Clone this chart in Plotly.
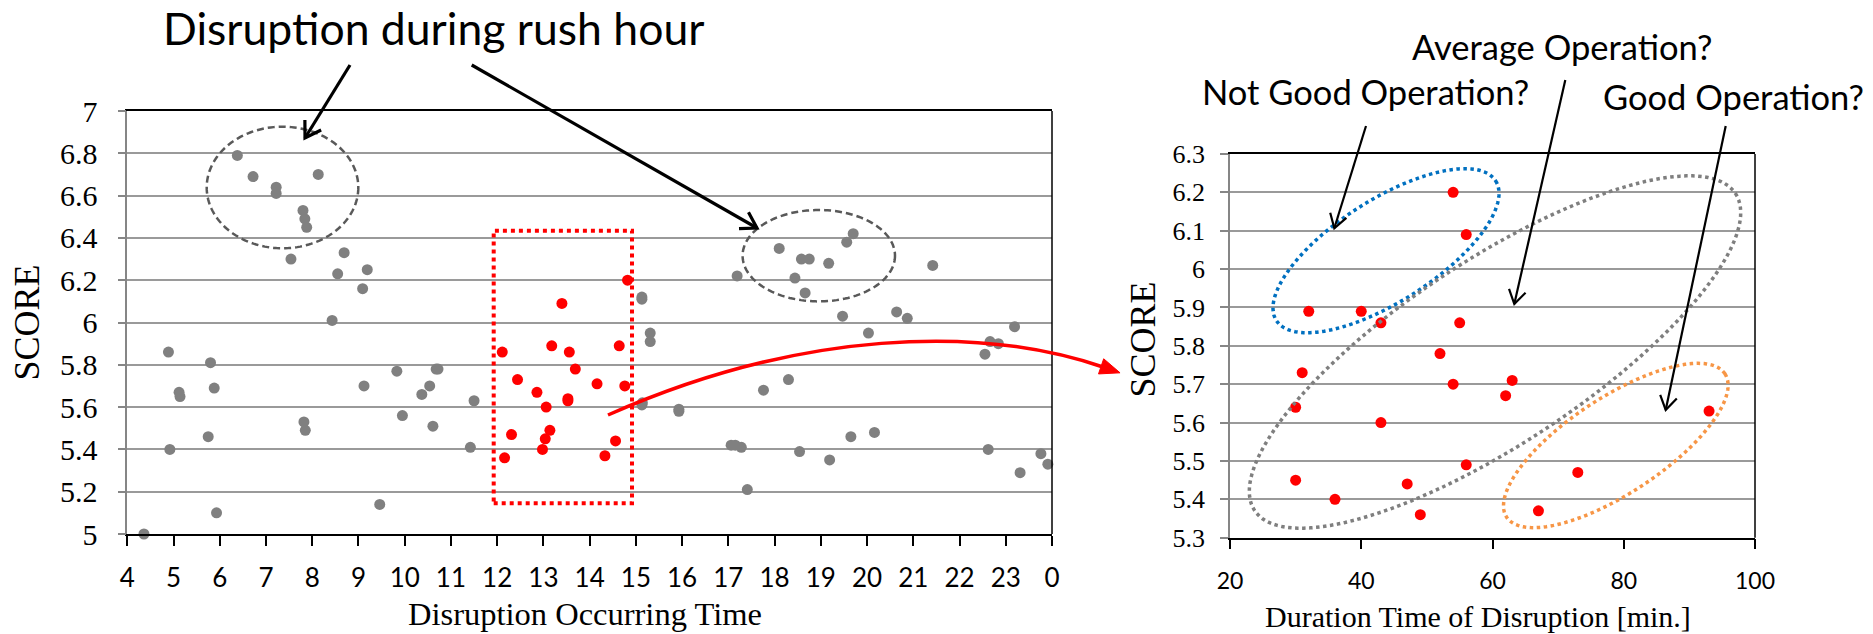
import math
import plotly.graph_objects as go

# ---------------- data ----------------
# Left chart: disruption occurring time (hour of day, 24 = midnight) vs SCORE
gray_time = [6.38, 6.72, 7.22, 7.22, 8.13, 7.80, 7.84, 7.88, 7.54, 8.69, 8.55, 9.19, 9.09, 8.43,
             4.89, 5.80, 5.12, 5.14, 5.88, 4.92, 5.75, 5.93, 4.36, 7.82, 7.85, 9.12, 9.83, 9.95,
             10.37, 10.54, 10.68, 10.72, 10.61, 9.46, 11.50, 11.42,
             15.13, 15.13, 15.31, 15.31, 15.13, 15.14, 15.93, 15.93, 17.19, 17.06, 17.15, 17.28,
             17.41, 17.76, 18.30, 18.10, 18.44, 18.58, 18.75, 18.66, 19.17, 19.56, 19.70, 18.54,
             19.19, 19.47, 19.65, 20.03, 20.16, 20.64, 20.87, 21.42, 22.55, 22.66, 22.84, 22.62,
             23.19, 23.31, 23.76, 23.91]
gray_score = [6.79, 6.69, 6.64, 6.61, 6.70, 6.53, 6.49, 6.45, 6.30, 6.33, 6.23, 6.25, 6.16, 6.01,
              5.86, 5.81, 5.67, 5.65, 5.69, 5.40, 5.46, 5.10, 5.00, 5.53, 5.49, 5.70, 5.77, 5.56,
              5.66, 5.70, 5.78, 5.78, 5.51, 5.14, 5.63, 5.41,
              6.12, 6.11, 5.95, 5.91, 5.61, 5.62, 5.59, 5.58, 6.22, 5.42, 5.42, 5.41,
              5.21, 5.68, 5.73, 6.35, 6.21, 6.30, 6.30, 6.14, 6.28, 6.38, 6.42, 5.39,
              5.35, 6.03, 5.46, 5.95, 5.48, 6.05, 6.02, 6.27, 5.85, 5.91, 5.90, 5.40,
              5.98, 5.29, 5.38, 5.33]
red_time = [12.11, 12.44, 12.16, 12.31, 12.86, 13.06, 13.14, 13.04, 12.98, 13.18, 13.40,
            13.56, 13.69, 13.53, 13.53, 14.16, 14.33, 14.56, 14.64, 14.76, 14.82]
red_score = [5.86, 5.73, 5.36, 5.47, 5.67, 5.60, 5.49, 5.45, 5.40, 5.89, 6.09,
             5.86, 5.78, 5.64, 5.63, 5.71, 5.37, 5.44, 5.89, 5.70, 6.20]
hour_ticks = list(range(4, 25))
hour_labels = [str(h) for h in range(4, 24)] + ["0"]
score_ticks_left = [5.0, 5.2, 5.4, 5.6, 5.8, 6.0, 6.2, 6.4, 6.6, 6.8, 7.0]
score_labels_left = ["5", "5.2", "5.4", "5.6", "5.8", "6", "6.2", "6.4", "6.6", "6.8", "7"]

# Right chart: duration of disruption [min.] vs SCORE
duration_min = [54, 56, 32, 40, 43, 55, 52, 31, 54, 30, 43, 56, 30, 47, 36, 49, 63, 62, 93, 73, 67]
duration_score = [6.20, 6.09, 5.89, 5.89, 5.86, 5.86, 5.78, 5.73, 5.70, 5.64, 5.60, 5.49, 5.45,
                  5.44, 5.40, 5.36, 5.71, 5.67, 5.63, 5.47, 5.37]
dur_ticks = [20, 40, 60, 80, 100]
score_ticks_right = [5.3, 5.4, 5.5, 5.6, 5.7, 5.8, 5.9, 6.0, 6.1, 6.2, 6.3]
score_labels_right = ["5.3", "5.4", "5.5", "5.6", "5.7", "5.8", "5.9", "6", "6.1", "6.2", "6.3"]

# ---------------- layout geometry (page pixels) ----------------
W, H = 1873, 634
L_X0, L_X1, L_Y0, L_Y1 = 127.3, 1052.0, 111.0, 534.0     # left plot box (top, bottom)
R_X0, R_X1, R_Y0, R_Y1 = 1230.0, 1755.0, 154.0, 537.7    # right plot box


def px(x):
    return x / W


def py(y):
    return 1 - y / H


GRAY = "#808080"
RED = "#FF0000"
GRID = "#9A9A9A"
AXG = "#868686"
SERIF = "Liberation Serif"
SANS = "Lato"

fig = go.Figure()
fig.add_trace(go.Scatter(x=gray_time, y=gray_score, mode="markers", xaxis="x", yaxis="y",
                         marker=dict(size=11, color=GRAY, line=dict(width=0)), cliponaxis=False))
fig.add_trace(go.Scatter(x=red_time, y=red_score, mode="markers", xaxis="x", yaxis="y",
                         marker=dict(size=11, color=RED, line=dict(width=0)), cliponaxis=False))
fig.add_trace(go.Scatter(x=duration_min, y=duration_score, mode="markers", xaxis="x2", yaxis="y2",
                         marker=dict(size=11, color=RED, line=dict(width=0)), cliponaxis=False))

common_x = dict(ticks="outside", ticklen=10, tickwidth=1.5, tickcolor="#000000", showline=True,
                linecolor="#000000", linewidth=1.5, mirror=True, showgrid=False, zeroline=False,
                automargin=False)
common_y = dict(ticks="outside", ticklen=8, tickwidth=1.5, tickcolor=AXG, showline=True,
                linecolor=AXG, linewidth=1.5, showgrid=True, gridcolor=GRID, gridwidth=1.5,
                zeroline=False, automargin=False)

fig.update_layout(
    width=W, height=H, autosize=False,
    margin=dict(l=0, r=0, t=0, b=0, pad=0, autoexpand=False),
    paper_bgcolor="white", plot_bgcolor="white", showlegend=False,
    xaxis=dict(domain=[px(L_X0), px(L_X1)], range=[4, 24], tickvals=hour_ticks, ticktext=hour_labels,
               tickfont=dict(family=SANS, size=26, color="black"), ticklabelstandoff=10, **common_x),
    yaxis=dict(domain=[py(L_Y1), py(L_Y0)], range=[5, 7], tickvals=score_ticks_left,
               ticktext=score_labels_left, tickfont=dict(family=SERIF, size=30, color="black"),
               ticklabelstandoff=14, **common_y),
    xaxis2=dict(domain=[px(R_X0), px(R_X1)], range=[20, 100], tickvals=dur_ticks, anchor="y2",
                tickfont=dict(family=SANS, size=23, color="black"), ticklabelstandoff=12, **common_x),
    yaxis2=dict(domain=[py(R_Y1), py(R_Y0)], range=[5.3, 6.3], tickvals=score_ticks_right,
                ticktext=score_labels_right, anchor="x2",
                tickfont=dict(family=SERIF, size=26, color="black"), ticklabelstandoff=10, **common_y),
)

shapes = []
# right-hand dark borders of both plot frames
shapes.append(dict(type="line", xref="x domain", yref="y domain", x0=1, x1=1, y0=0, y1=1,
                   line=dict(color="#000000", width=1.5)))
shapes.append(dict(type="line", xref="x2 domain", yref="y2 domain", x0=1, x1=1, y0=0, y1=1,
                   line=dict(color="#000000", width=1.5)))


def path_from(points, close=False):
    s = "M " + " L ".join(f"{px(x):.5f},{py(y):.5f}" for x, y in points)
    return s + (" Z" if close else "")


def ellipse(cx, cy, a, b, theta_deg, n=160):
    th = math.radians(theta_deg)
    ux, uy = math.cos(th), -math.sin(th)
    vx, vy = math.sin(th), math.cos(th)
    pts = []
    for i in range(n + 1):
        t = 2 * math.pi * i / n
        pts.append((cx + a * math.cos(t) * ux + b * math.sin(t) * vx,
                    cy + a * math.cos(t) * uy + b * math.sin(t) * vy))
    return path_from(pts, close=True)


def arrow(x0, y0, x1, y1, color, width, head=16, ang=32):
    d = math.hypot(x1 - x0, y1 - y0)
    bx, by = (x0 - x1) / d, (y0 - y1) / d
    arms = []
    for s in (1, -1):
        a = math.radians(ang * s)
        arms.append((x1 + head * (bx * math.cos(a) - by * math.sin(a)),
                     y1 + head * (bx * math.sin(a) + by * math.cos(a))))
    shapes.append(dict(type="path", xref="paper", yref="paper",
                       path=path_from([(x0, y0), (x1, y1)]), line=dict(color=color, width=width)))
    shapes.append(dict(type="path", xref="paper", yref="paper",
                       path=path_from([arms[0], (x1, y1), arms[1]]), line=dict(color=color, width=width)))


# dashed ellipses (left chart)
for (cx, cy, a, b) in [(282.5, 187.5, 75.8, 60.8), (818.8, 255.7, 76.2, 45.7)]:
    shapes.append(dict(type="path", xref="paper", yref="paper", path=ellipse(cx, cy, a, b, 0),
                       line=dict(color="#595959", width=2.5, dash="7px,4px")))

# red dotted rectangle
shapes.append(dict(type="rect", xref="paper", yref="paper", x0=px(493.7), x1=px(632.0),
                   y0=py(503.3), y1=py(230.7), line=dict(color=RED, width=4, dash="dot")))

# dotted ellipses (right chart)
shapes.append(dict(type="path", xref="paper", yref="paper", path=ellipse(1386, 250.7, 130, 51, 32.5),
                   line=dict(color="#0070C0", width=3.5, dash="dot")))
shapes.append(dict(type="path", xref="paper", yref="paper", path=ellipse(1495, 352, 288, 92, 33.4),
                   line=dict(color="#7F7F7F", width=3.5, dash="dot")))
shapes.append(dict(type="path", xref="paper", yref="paper", path=ellipse(1615.8, 445.5, 130.6, 48, 33.3),
                   line=dict(color="#F79646", width=3.5, dash="dot")))

# red curved arrow linking the two charts
p0, p1, p2, p3 = (608, 415), (800, 330), (980, 325), (1103, 367)
curve = f"M {px(p0[0]):.5f},{py(p0[1]):.5f} C {px(p1[0]):.5f},{py(p1[1]):.5f} " \
        f"{px(p2[0]):.5f},{py(p2[1]):.5f} {px(p3[0]):.5f},{py(p3[1]):.5f}"
shapes.append(dict(type="path", xref="paper", yref="paper", path=curve, line=dict(color=RED, width=3.5)))
dx, dy = p3[0] - p2[0], p3[1] - p2[1]
dl = math.hypot(dx, dy)
ux, uy = dx / dl, dy / dl
tip = (p3[0] + 18 * ux, p3[1] + 18 * uy)
base = (p3[0] - 2 * ux, p3[1] - 2 * uy)
head_pts = [tip, (base[0] - 8 * uy, base[1] + 8 * ux), (base[0] + 8 * uy, base[1] - 8 * ux)]
shapes.append(dict(type="path", xref="paper", yref="paper", path=path_from(head_pts, close=True),
                   fillcolor=RED, line=dict(color=RED, width=1)))

# black arrows
arrow(350, 65, 305, 138, "#000000", 3.2, head=18)
arrow(471.7, 65, 757, 228, "#000000", 3.2, head=18)
arrow(1366, 126, 1334.3, 228.3, "#000000", 2.2, head=16)
arrow(1565.3, 80, 1514.3, 304, "#000000", 2.2, head=16)
arrow(1725.7, 126, 1665.7, 410, "#000000", 2.2, head=16)

fig.update_layout(shapes=shapes)

annotations = []


def text(s, x, y, size, family, angle=0):
    annotations.append(dict(text=s, x=px(x), y=py(y), xref="paper", yref="paper", showarrow=False,
                            xanchor="center", yanchor="middle", textangle=angle,
                            font=dict(family=family, size=size, color="black")))


text("Disruption during rush hour", 433, 28, 44.5, SANS)
text("Average Operation?", 1562, 47, 34.5, SANS)
text("Not Good Operation?", 1365, 92, 34.5, SANS)
text("Good Operation?", 1733.5, 97, 34.5, SANS)
text("SCORE", 27, 322.5, 36, SERIF, angle=-90)
text("SCORE", 1142.5, 340, 36, SERIF, angle=-90)
text("Disruption Occurring Time", 585, 614, 32.5, SERIF)
text("Duration Time of Disruption [min.]", 1478, 616, 30, SERIF)
fig.update_layout(annotations=annotations)

# place the figure flush with the page corner (no default body margin), no mode bar
fig.write_html("out.html", config={"displayModeBar": False},
               post_script="document.body.style.margin='0';document.body.style.overflow='hidden';")
